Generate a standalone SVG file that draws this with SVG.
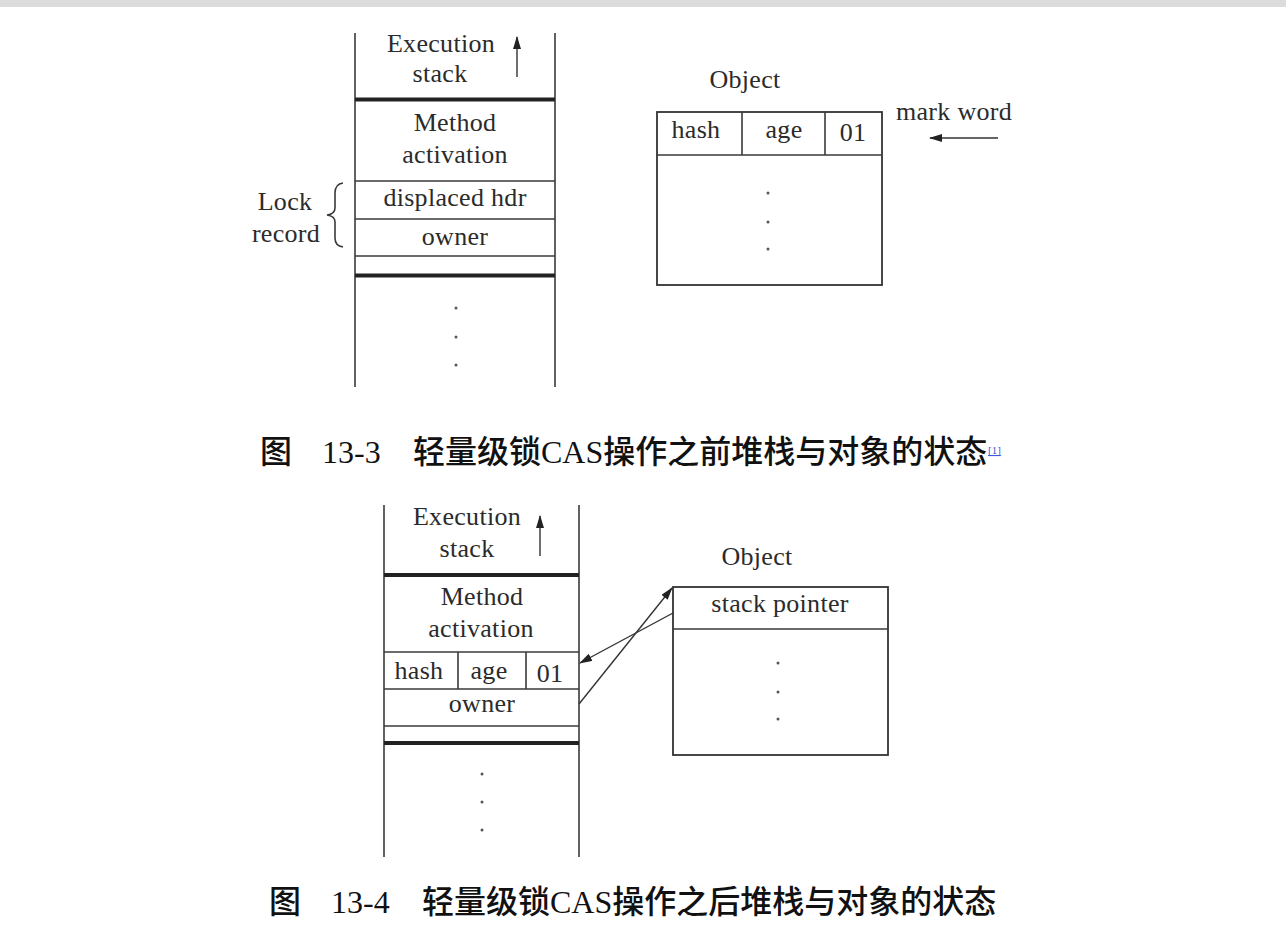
<svg xmlns="http://www.w3.org/2000/svg" width="1286" height="928" viewBox="0 0 1286 928">
<style>
.t{font-family:"Liberation Serif","Times New Roman",serif;font-size:26px;fill:#2b2b2b;text-anchor:middle;letter-spacing:0.3px}
.ln{stroke:#3a3a3a;stroke-width:1.6;fill:none}
.thk{stroke:#222;stroke-width:4;fill:none}
.bx{stroke:#333;stroke-width:1.8;fill:#fff}
.dot{fill:#555}
.cap{font-family:"Noto Sans CJK SC","Noto Sans",sans-serif;font-size:32px;font-weight:500;fill:#111}
.capl{font-family:"Liberation Serif","Times New Roman",serif;font-size:32px;font-weight:400;fill:#111}
.ar{stroke:#333;stroke-width:1.4;fill:none}
</style>
<defs>
<marker id="ah" viewBox="0 0 13 8" refX="12" refY="4" markerWidth="13" markerHeight="8" markerUnits="userSpaceOnUse" orient="auto">
<path d="M0,0 L13,4 L0,8 Z" fill="#222"/>
</marker>
</defs>
<rect x="0" y="0" width="1286" height="7" fill="#dcdcdc"/>

<g id="stack1">
<line class="ln" x1="355" y1="33" x2="355" y2="387"/>
<line class="ln" x1="555" y1="33" x2="555" y2="387"/>
<line class="thk" x1="355" y1="99.5" x2="555" y2="99.5"/>
<line class="ln" x1="355" y1="181" x2="555" y2="181"/>
<line class="ln" x1="355" y1="219" x2="555" y2="219"/>
<line class="ln" x1="355" y1="256" x2="555" y2="256"/>
<line class="thk" x1="355" y1="275.5" x2="555" y2="275.5"/>
<text class="t" x="441" y="52">Execution</text>
<text class="t" x="440" y="82">stack</text>
<text class="t" x="455" y="131">Method</text>
<text class="t" x="455" y="163">activation</text>
<text class="t" x="455" y="206">displaced hdr</text>
<text class="t" x="455" y="245">owner</text>
<circle class="dot" cx="456" cy="308" r="1.5"/>
<circle class="dot" cx="456" cy="337" r="1.5"/>
<circle class="dot" cx="456" cy="365" r="1.5"/>
</g>

<g id="lockrecord">
<text class="t" x="285" y="210">Lock</text>
<text class="t" x="286" y="242">record</text>
<path class="ln" d="M343,183 Q335,184 335,193 L335,208 Q335,214 327,215 Q335,216 335,222 L335,238 Q335,246 343,247" stroke-width="1.4"/>
</g>

<g id="object1">
<text class="t" x="745" y="88">Object</text>
<rect class="bx" x="657" y="112" width="225" height="173"/>
<line class="ln" x1="657" y1="155" x2="882" y2="155"/>
<line class="ln" x1="742" y1="112" x2="742" y2="155"/>
<line class="ln" x1="825" y1="112" x2="825" y2="155"/>
<text class="t" x="696" y="138">hash</text>
<text class="t" x="784" y="138">age</text>
<text class="t" x="853" y="141">01</text>
<circle class="dot" cx="768" cy="193" r="1.5"/>
<circle class="dot" cx="768" cy="222" r="1.5"/>
<circle class="dot" cx="768" cy="249" r="1.5"/>
<text class="t" x="954" y="120">mark word</text>
</g>

<g id="caption1">
<text class="cap" x="260" y="463">图</text>
<text class="capl" x="322" y="463">13-3</text>
<text class="cap" x="413" y="463">轻量级锁<tspan class="capl">CAS</tspan>操作之前堆栈与对象的状态</text>
<text x="988" y="454" font-family="Liberation Serif,serif" font-size="11" fill="#3b5bdb" text-decoration="underline">[1]</text>
</g>

<g id="stack2">
<line class="ln" x1="384" y1="505" x2="384" y2="857"/>
<line class="ln" x1="579" y1="505" x2="579" y2="857"/>
<line class="thk" x1="384" y1="575" x2="579" y2="575"/>
<line class="ln" x1="384" y1="652" x2="579" y2="652"/>
<line class="ln" x1="458" y1="652" x2="458" y2="689"/>
<line class="ln" x1="526" y1="652" x2="526" y2="689"/>
<line class="ln" x1="384" y1="689" x2="579" y2="689"/>
<line class="ln" x1="384" y1="726" x2="579" y2="726"/>
<line class="thk" x1="384" y1="743" x2="579" y2="743"/>
<text class="t" x="467" y="525">Execution</text>
<text class="t" x="467" y="557">stack</text>
<text class="t" x="482" y="605">Method</text>
<text class="t" x="481" y="637">activation</text>
<text class="t" x="419" y="679">hash</text>
<text class="t" x="489" y="679">age</text>
<text class="t" x="550" y="682">01</text>
<text class="t" x="482" y="712">owner</text>
<circle class="dot" cx="482" cy="774" r="1.5"/>
<circle class="dot" cx="482" cy="802" r="1.5"/>
<circle class="dot" cx="482" cy="830" r="1.5"/>
</g>

<g id="object2">
<text class="t" x="757" y="565">Object</text>
<rect class="bx" x="673" y="587" width="215" height="168"/>
<line class="ln" x1="673" y1="629" x2="888" y2="629"/>
<text class="t" x="780" y="612">stack pointer</text>
<circle class="dot" cx="778" cy="663" r="1.5"/>
<circle class="dot" cx="778" cy="692" r="1.5"/>
<circle class="dot" cx="778" cy="719" r="1.5"/>
</g>

<g id="caption2">
<text class="cap" x="269" y="913">图</text>
<text class="capl" x="331" y="913">13-4</text>
<text class="cap" x="422" y="913">轻量级锁<tspan class="capl">CAS</tspan>操作之后堆栈与对象的状态</text>
</g>

<g id="connectors">
<line class="ar" x1="517" y1="77" x2="517" y2="37" marker-end="url(#ah)"/>
<line class="ar" x1="998" y1="138" x2="930" y2="138" marker-end="url(#ah)"/>
<line class="ar" x1="540" y1="556" x2="540" y2="516" marker-end="url(#ah)"/>
<line class="ar" x1="579" y1="704" x2="672" y2="588" marker-end="url(#ah)"/>
<line class="ar" x1="673" y1="613" x2="580" y2="663" marker-end="url(#ah)"/>
</g>
</svg>
